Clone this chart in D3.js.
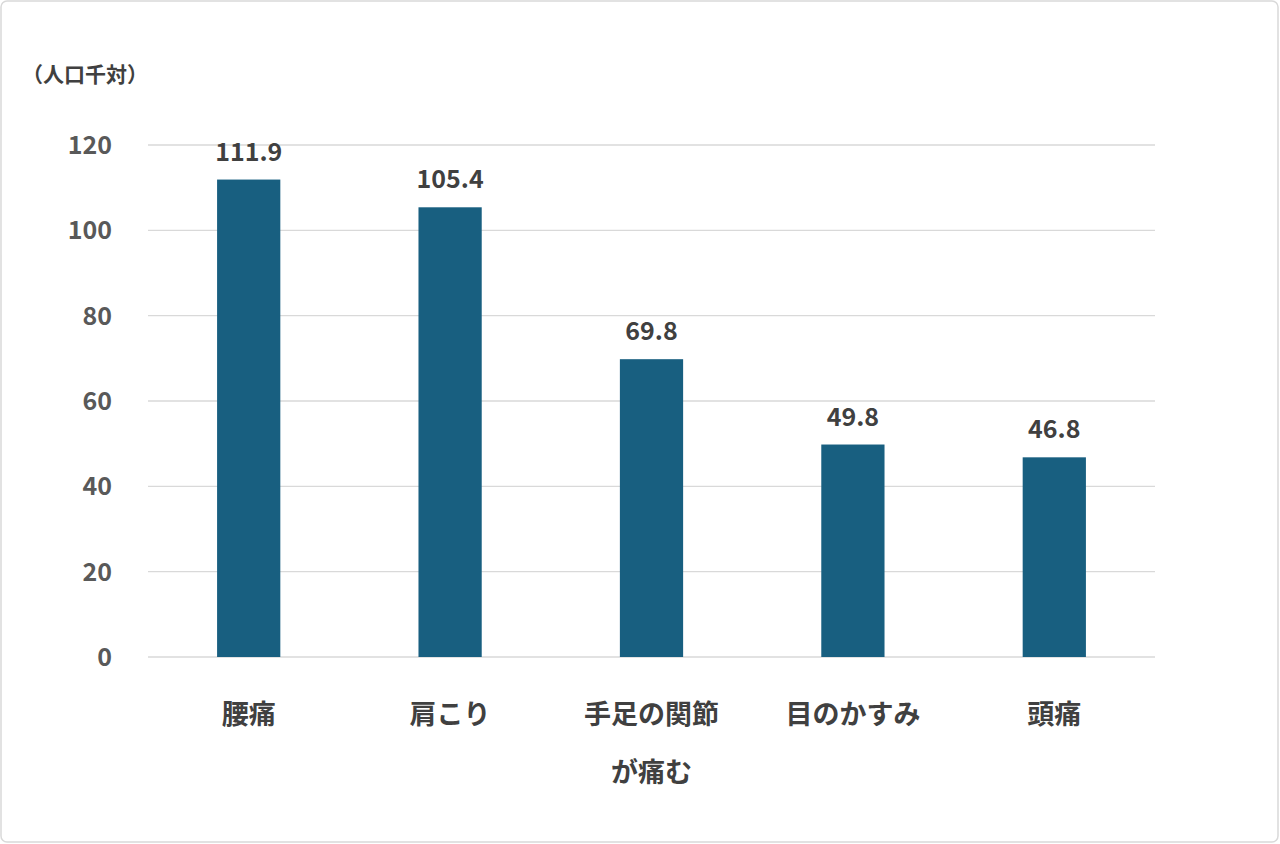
<!DOCTYPE html>
<html><head><meta charset="utf-8">
<script src="https://cdn.jsdelivr.net/npm/d3@7"></script>
<style>body{margin:0;background:#fff}svg{display:block}</style>
</head><body><svg id="c" width="1280" height="844"></svg>
<script>
const categories=[["腰痛"],["肩こり"],["手足の関節","が痛む"],["目のかすみ"],["頭痛"]];
const values=[111.9,105.4,69.8,49.8,46.8];
const valueLabels=["111.9","105.4","69.8","49.8","46.8"];
const yTicks=[0,20,40,60,80,100,120];
const unitLabel="（人口千対）";
const font='"Noto Sans CJK JP","Noto Sans",sans-serif';
const svg=d3.select("#c");
svg.append("rect").attr("x",1).attr("y",1).attr("width",1277).attr("height",841).attr("rx",6).attr("fill","#fff").attr("stroke","#d9d9d9").attr("stroke-width",1.5);
const x=d3.scaleBand().domain(d3.range(values.length)).range([148,1155]).paddingInner(0.686).paddingOuter(0.343);
const y=d3.scaleLinear().domain([0,120]).range([657,145]);
const g=svg.append("g");
g.selectAll("line.grid").data(yTicks).join("line").attr("x1",148).attr("x2",1155).attr("y1",d=>y(d)).attr("y2",d=>y(d)).attr("stroke","#d9d9d9").attr("stroke-width",1.3);
g.selectAll("text.yt").data(yTicks).join("text").attr("x",112).attr("y",d=>y(d)+9).attr("text-anchor","end").attr("font-family",font).attr("font-weight","bold").attr("font-size",25).attr("fill","#595959").text(d=>d);
g.selectAll("rect.bar").data(values).join("rect").attr("x",(d,i)=>x(i)).attr("width",x.bandwidth()).attr("y",d=>y(d)).attr("height",d=>y(0)-y(d)).attr("fill","#185f80");
g.selectAll("text.vl").data(values).join("text").attr("x",(d,i)=>x(i)+x.bandwidth()/2).attr("y",d=>y(d)-19).attr("text-anchor","middle").attr("font-family",font).attr("font-weight","bold").attr("font-size",25).attr("fill","#404040").text((d,i)=>valueLabels[i]);
categories.forEach((lines,i)=>{
  const t=g.append("text").attr("text-anchor","middle").attr("font-family",font).attr("font-weight","bold").attr("font-size",27).attr("fill","#404040");
  lines.forEach((l,j)=>t.append("tspan").attr("x",x(i)+x.bandwidth()/2).attr("y",724+j*58).text(l));
});
svg.append("text").attr("x",22).attr("y",82).attr("font-family",font).attr("font-weight","bold").attr("font-size",21).attr("fill","#404040").text(unitLabel);
</script></body></html>
